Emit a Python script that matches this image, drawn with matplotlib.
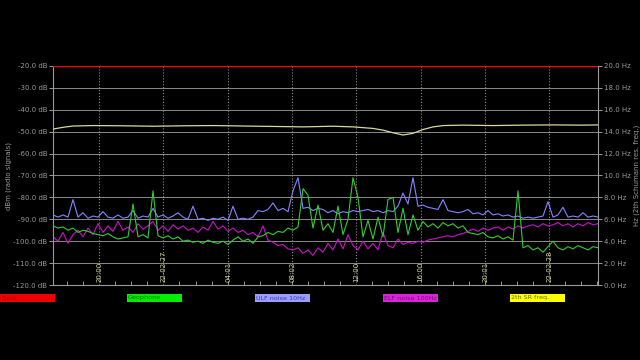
import numpy as np
import matplotlib
matplotlib.use('Agg')
import matplotlib.pyplot as plt
from matplotlib.patches import Rectangle

# sampling: hours of day, one sample every ~18.7 min from 17:08
start_hour = 17.13
step_h = 0.3111
end_hour = 51.04

# ULF noise 10Hz [dBm]
ulf = [-88, -89, -88, -89, -81, -89, -87, -89.5, -88.5, -89,
       -86.5, -89, -89.5, -88, -89.5, -89, -86, -89.5, -88.5, -89,
       -85, -89, -88, -89.5, -88.5, -87, -89, -90, -84, -90,
       -89.5, -90.5, -89.5, -90, -89, -90.5, -84, -90, -89.5, -90,
       -89, -86, -86.5, -85.5, -82.5, -86, -85, -86.5, -77, -71,
       -85, -84.5, -86, -85, -85.5, -87, -86, -87.5, -86.5, -87,
       -86, -86.5, -86, -85.5, -86.5, -86, -87, -86, -86.5, -84,
       -78, -83, -71, -84, -83.5, -84.5, -85, -85.5, -81, -86,
       -86.5, -87, -86.5, -85.5, -87.5, -87, -88, -86, -88, -87.5,
       -88.5, -88, -89, -88.5, -89.5, -89, -89.5, -89, -88.5, -82,
       -89, -88, -84.5, -89, -88.5, -89, -87, -89, -88.5, -89]

# ELF noise 100Hz [dBm]
elf = [-98, -100, -96, -101, -97, -95, -98, -94, -97, -92,
       -96, -93, -95.5, -91, -95, -93.5, -96, -92, -94.5, -93,
       -91, -95, -93, -95.5, -92.5, -94.5, -93, -95, -94, -96,
       -93.5, -95, -91, -94.5, -93, -95.5, -94, -96, -95, -97,
       -96, -98, -93, -99.5, -100.5, -102, -101.5, -103.5, -104, -103,
       -105.5, -104, -106.5, -103, -105, -101, -104, -99, -103.5, -97,
       -102, -104, -100, -103.5, -101, -104, -96, -102, -103, -99,
       -101.5, -100.5, -101, -100, -100.5, -99.5, -99, -98.5, -98, -97.5,
       -98, -97, -96.5, -95.5, -94.5, -95.5, -94, -95, -94, -93.5,
       -95, -93.5, -94.5, -93, -94, -93, -92.5, -93.5, -92, -93,
       -92.5, -91.5, -93, -92, -93.5, -92, -93, -91.5, -92.5, -92]

# Geophone [dBm]
geo = [-93, -94, -93.5, -95, -94, -96, -95, -95.5, -96.5, -97,
       -97.5, -96.5, -98, -99, -98.5, -98, -83, -98, -97, -98.5,
       -77, -97.5, -98.5, -97.5, -99, -98, -100, -99.5, -100.5, -100,
       -101, -99.5, -100.5, -101, -100, -101.5, -99.5, -98, -100, -99,
       -101, -98, -97.5, -96, -97, -95.5, -96, -94, -95, -93.5,
       -76, -79, -94, -83.5, -95, -92, -96, -84, -97, -90,
       -71, -80, -98, -90.5, -99, -89, -98, -81, -80, -96,
       -85, -97, -88, -95, -91, -93.5, -92, -94, -91.5, -93,
       -92, -94, -93, -96, -96.5, -97, -96, -98, -98.5, -97.5,
       -99, -98, -99.5, -77, -103, -102, -104, -103, -105, -102.5,
       -100, -103, -104, -102.5, -103.5, -102, -103, -104, -102.5, -103]

# 2th Schumann resonance frequency [Hz]
sr_hours = [17.13, 17.75, 18.37, 19.62, 21.49, 23.35, 25.22, 27.09, 28.95,
            30.82, 32.69, 34.55, 35.80, 37.04, 37.67, 38.29, 38.91, 39.53,
            40.15, 40.78, 41.40, 42.64, 44.51, 46.38, 48.24, 50.11, 51.04]
sr_hz = [14.24, 14.40, 14.52, 14.56, 14.54, 14.50, 14.54, 14.56, 14.52,
         14.48, 14.44, 14.50, 14.44, 14.30, 14.14, 13.90, 13.70, 13.85,
         14.20, 14.44, 14.56, 14.60, 14.56, 14.60, 14.62, 14.60, 14.62]

major_hours = [20.0, 24.0, 28.02, 32.03, 36.0, 40.0, 44.02, 48.0]
major_labels = ['20:00', '22-02-27', '04:01', '08:02', '12:00', '16:00', '20:01', '22-02-28']

legend_names = ['Time', 'Geophone', 'ULF noise 10Hz', 'ELF noise 100Hz', '2th SR freq.']
legend_colors = ['#ee0000', '#00ee00', '#9c9cff', '#dd22dd', '#ffff00']
legend_text = ['#7a0000', '#006a00', '#3a3aa0', '#701070', '#6a6a00']

t = start_hour + np.arange(len(ulf)) * step_h

grey = '#9a9a9a'
fs = 5.0

fig = plt.figure(figsize=(6.4, 3.6), dpi=100, facecolor='black')
ax = fig.add_axes([53 / 640, 75 / 360, 545 / 640, 219 / 360])
ax.set_facecolor('black')

ax.set_xlim(start_hour, end_hour)
ax.set_ylim(-120, -20)
ax.set_yticks(np.arange(-120, -19, 10))
ax.set_yticklabels(['%.1f dB' % v for v in np.arange(-120, -19, 10)])
ax.set_xticks(major_hours)
ax.set_xticklabels([])
ax.set_xticks(np.arange(18, 52, 1), minor=True)
ax.tick_params(axis='x', which='major', length=0)
ax.tick_params(axis='x', which='minor', direction='in', length=3, color=grey, width=0.7)
ax.tick_params(axis='y', colors=grey, labelsize=fs, length=3, width=0.7, pad=1)

ax.grid(axis='y', color='#8a8a8a', linestyle='-', linewidth=0.7)
ax.grid(axis='x', which='major', color='#8a8a8a', linestyle=':', linewidth=0.8)
ax.axhline(-20, color='#ff0000', linewidth=1.0, zorder=3)

for s in ax.spines.values():
    s.set_color(grey)
    s.set_linewidth(0.8)
ax.spines['top'].set_visible(False)

ax.plot(t, elf, color='#cc11cc', linewidth=0.8)
ax.plot(t, ulf, color='#8585ff', linewidth=0.8)
ax.plot(t, geo, color='#33cc33', linewidth=0.8)

for h, lab in zip(major_hours, major_labels):
    ax.text(h, -118.7, lab, rotation=90, ha='center', va='bottom',
            color='#d8d8a0', fontsize=fs)

ax.set_ylabel('dBm (radio signals)', color=grey, fontsize=fs, labelpad=1)

ax2 = ax.twinx()
ax2.set_ylim(0, 20)
ax2.set_yticks(np.arange(0, 21, 2))
ax2.set_yticklabels(['%.1f Hz' % v for v in np.arange(0, 21, 2)])
ax2.tick_params(axis='y', colors=grey, labelsize=fs, length=3, width=0.7, pad=1)
for s in ax2.spines.values():
    s.set_visible(False)
ax2.plot(sr_hours, sr_hz, color='#d8d8a0', linewidth=0.9)
ax2.set_ylabel('Hz (2th Schumann res. freq.)', color=grey, fontsize=fs, labelpad=2)

# legend boxes along the bottom
box_left = [0, 127, 255, 383, 510]
for x0, name, c, tc in zip(box_left, legend_names, legend_colors, legend_text):
    fig.patches.append(Rectangle((x0 / 640, 58 / 360), 55 / 640, 8 / 360,
                                 transform=fig.transFigure, facecolor=c,
                                 edgecolor='none'))
    fig.text((x0 + 1) / 640, 62 / 360, name, color=tc, fontsize=4.6,
             va='center', ha='left')

fig.savefig('out.png', dpi=100, facecolor='black')
